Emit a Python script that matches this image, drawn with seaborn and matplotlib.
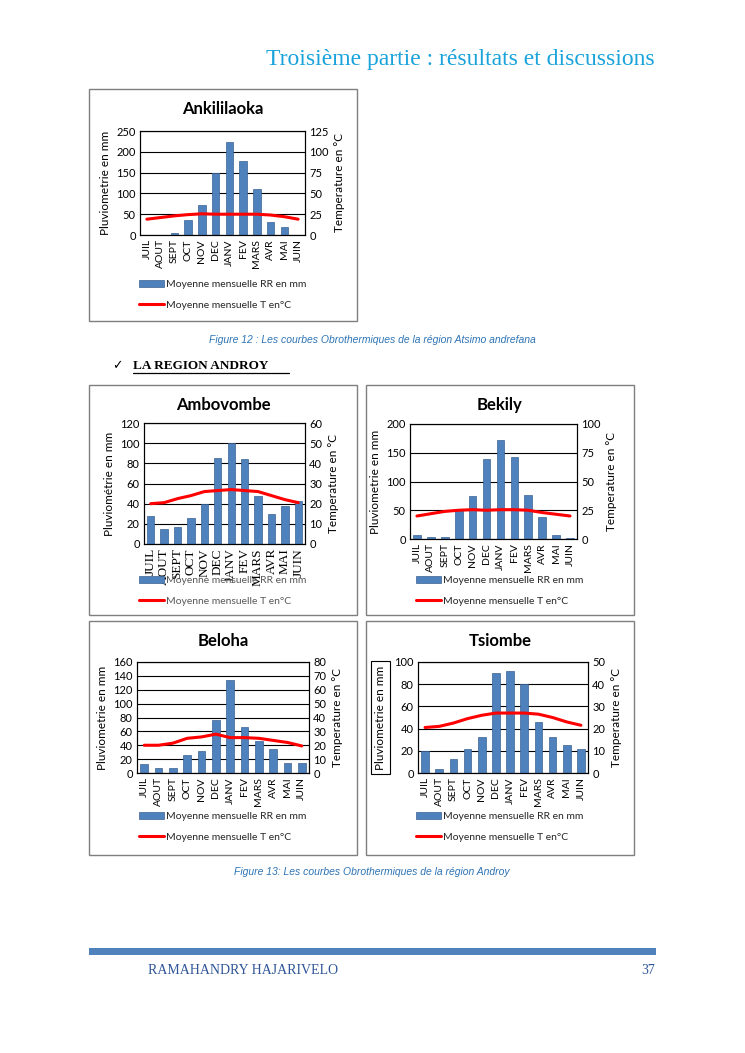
import numpy as np
import pandas as pd
import matplotlib
matplotlib.use("Agg")
import matplotlib.pyplot as plt
import seaborn as sns
from matplotlib.patches import Rectangle
from matplotlib.lines import Line2D

# -----------------------------------------------------------------
# Données
# -----------------------------------------------------------------
mois = ["JUIL", "AOUT", "SEPT", "OCT", "NOV", "DEC", "JANV", "FEV", "MARS", "AVR", "MAI", "JUIN"]

rr_ankililaoka = [0, 0, 5, 35, 73, 149, 224, 177, 110, 32, 20, 0]
t_ankililaoka = [19, 21, 23, 24.5, 25.5, 25, 25, 25, 25, 24, 22, 19]

rr_ambovombe = [28, 15, 17, 26, 40, 85, 100, 84, 48, 30, 38, 43]
t_ambovombe = [20, 20.5, 22.5, 24, 26, 26.5, 27, 26.5, 26, 24, 22, 20.5]

rr_bekily = [7, 3, 3, 50, 75, 139, 172, 142, 77, 38, 7, 1]
t_bekily = [20, 22, 24, 25, 25.5, 25, 25.5, 25.5, 25, 23, 21.5, 20]

rr_beloha = [13, 7, 7, 26, 31, 76, 134, 67, 46, 34, 14, 14]
t_beloha = [20, 20, 21.5, 25, 26, 28, 25.5, 25.5, 25, 23.5, 22, 19.5]

rr_tsiombe = [20, 4, 13, 22, 32, 90, 92, 80, 46, 32, 25, 22]
t_tsiombe = [20.5, 21, 22.5, 24.5, 26, 27, 27, 27, 26.5, 25, 23, 21.5]

LABEL_RR = "Moyenne mensuelle RR en mm"
LABEL_T = "Moyenne mensuelle T en°C"

W, H = 745, 1053
BLEU = "#4F81BD"
ROUGE = "#FF0000"

sns.set_theme(style="white")
plt.rcParams["font.family"] = ["Lato", "DejaVu Sans"]

fig = plt.figure(figsize=(W / 100, H / 100), dpi=100)


def fx(x):
    return x / W


def fy(y):
    return 1 - y / H


def rect_px(x0, y0, x1, y1):
    return [fx(x0), fy(y1), (x1 - x0) / W, (y1 - y0) / H]


# -----------------------------------------------------------------
# Un graphique ombrothermique
# -----------------------------------------------------------------
def courbe(cadre, zone, titre, rr, temp, ymax, pas, tmax, ylabel,
           leg_xy, serif_ticks=False, boxed_ylabel=False, leg_color="#262626"):
    x0, y0, x1, y1 = cadre
    fig.add_artist(Rectangle((fx(x0), fy(y1)), (x1 - x0) / W, (y1 - y0) / H,
                             transform=fig.transFigure, fill=False,
                             ec="#7f7f7f", lw=1))
    fig.text(fx((x0 + x1) / 2), fy(y0 + 20), titre, ha="center", va="center",
             fontsize=12, fontweight="bold", color="black")

    ax = fig.add_axes(rect_px(*zone))
    df = pd.DataFrame({"mois": mois, "rr": rr, "t": temp})
    sns.barplot(data=df, x="mois", y="rr", ax=ax, color=BLEU, saturation=1,
                width=0.55, edgecolor="#3A6393", linewidth=0.5)
    ax.set_ylim(0, ymax)
    ax.set_xlim(-0.5, len(mois) - 0.5)
    n = int(round(ymax / pas))
    ax.set_yticks(np.arange(0, ymax + pas / 2, pas))
    ax.yaxis.grid(True, color="black", lw=0.8)
    ax.set_axisbelow(True)
    ax.set_xlabel("")
    ax.tick_params(axis="y", length=0, labelsize=8, pad=3, colors="black")
    ax.set_xticks(range(len(mois)))
    if serif_ticks:
        ax.set_xticklabels(mois, rotation=90, fontsize=9.5, family="Liberation Serif")
    else:
        ax.set_xticklabels(mois, rotation=90, fontsize=7.5)
    ax.tick_params(axis="x", length=0, pad=3, colors="black")
    for s in ax.spines.values():
        s.set_color("black")
        s.set_linewidth(0.8)
    if boxed_ylabel:
        ax.set_ylabel(ylabel, fontsize=8.5, color="black", labelpad=6,
                      bbox=dict(boxstyle="square,pad=0.35", fc="none", ec="black", lw=0.8))
    else:
        ax.set_ylabel(ylabel, fontsize=8.5, color="black", labelpad=4)

    # courbe de température sur l'axe secondaire
    ax2 = ax.twinx()
    sns.lineplot(x=df.index, y=df["t"], ax=ax2, color=ROUGE, lw=2.2, legend=False)
    ax2.set_ylim(0, tmax)
    ax2.set_yticks(np.linspace(0, tmax, n + 1))
    ax2.tick_params(axis="y", length=0, labelsize=8, pad=3, colors="black")
    ax2.set_ylabel("Temperature en °C", fontsize=8.5, color="black", labelpad=4)
    ax2.grid(False)
    for s in ax2.spines.values():
        s.set_color("black")
        s.set_linewidth(0.8)

    handles = [ax.patches[0], ax2.lines[0]]
    leg = fig.legend(handles, [LABEL_RR, LABEL_T], loc="upper left",
                     bbox_to_anchor=(fx(leg_xy[0]), fy(leg_xy[1])),
                     frameon=False, fontsize=7.5, handlelength=2.4,
                     handleheight=0.7, labelspacing=1.1, handletextpad=0.2,
                     borderpad=0, borderaxespad=0)
    for t in leg.get_texts():
        t.set_color(leg_color)
    return ax, ax2


courbe((89, 89, 357, 321), (140, 131, 305, 235), "Ankililaoka",
       rr_ankililaoka, t_ankililaoka, 250, 50, 125, "Pluviometrie en mm", (139, 280))
courbe((89, 385, 357, 615), (144, 423, 305, 544), "Ambovombe",
       rr_ambovombe, t_ambovombe, 120, 20, 60, "Pluviométrie en mm", (139, 576),
       serif_ticks=True, leg_color="#595959")
courbe((366, 385, 634, 615), (410, 424, 577, 539), "Bekily",
       rr_bekily, t_bekily, 200, 50, 100, "Pluviometrie en mm", (416, 576))
courbe((89, 621, 357, 855), (137, 662, 309, 773), "Beloha",
       rr_beloha, t_beloha, 160, 20, 80, "Pluviometrie en mm", (139, 812))
courbe((366, 621, 634, 855), (418, 662, 588, 773), "Tsiombe",
       rr_tsiombe, t_tsiombe, 100, 20, 50, "Pluviometrie en mm", (416, 812),
       boxed_ylabel=True)

# -----------------------------------------------------------------
# Textes de la page
# -----------------------------------------------------------------
fig.text(fx(655), fy(60), "Troisième partie : résultats et discussions",
         ha="right", va="center", fontsize=17, color="#1AA3DB",
         family="Liberation Serif")
fig.text(fx(372), fy(340), "Figure 12 : Les courbes Obrothermiques de la région Atsimo andrefana",
         ha="center", va="center", fontsize=7.5, style="italic", color="#2E74B5",
         family="Liberation Sans")
fig.text(fx(117), fy(366), "✓", ha="center", va="center", fontsize=9,
         family="DejaVu Sans", color="black")
fig.text(fx(133), fy(366), "LA REGION ANDROY", ha="left", va="center",
         fontsize=9.5, fontweight="bold", family="Liberation Serif", color="black")
fig.add_artist(Line2D([fx(133), fx(289)], [fy(373), fy(373)],
                      transform=fig.transFigure, color="black", lw=0.9))
fig.text(fx(372), fy(872), "Figure 13: Les courbes Obrothermiques de la région Androy",
         ha="center", va="center", fontsize=7.5, style="italic", color="#2E74B5",
         family="Liberation Sans")

fig.add_artist(Rectangle((fx(89), fy(955)), (656 - 89) / W, 7 / H,
                         transform=fig.transFigure, color=BLEU, lw=0))
fig.text(fx(148), fy(971), "RAMAHANDRY HAJARIVELO", ha="left", va="center",
         fontsize=10, family="Liberation Serif", color="#2F5597")
fig.text(fx(655), fy(971), "37", ha="right", va="center",
         fontsize=10, family="Liberation Serif", color="#2F5597")

fig.savefig("out.png", dpi=100, facecolor="white")
